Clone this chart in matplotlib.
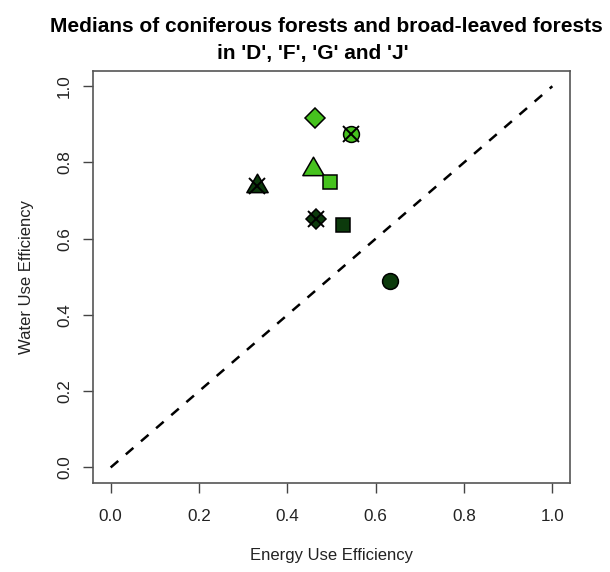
import matplotlib
matplotlib.use('Agg')
import matplotlib.pyplot as plt
from matplotlib.path import Path

# medians per forest type and region (energy use efficiency, water use efficiency)
groups=['coniferous D','coniferous F','coniferous G','coniferous J','broad-leaved D','broad-leaved F','broad-leaved G','broad-leaved J']
eue=[0.462,0.544,0.459,0.497,0.331,0.465,0.527,0.633]
wue=[0.917,0.874,0.783,0.749,0.738,0.651,0.636,0.490]
shapes=['D','o','tri','s','tri','D','s','o']
fills=['#46c21e','#46c21e','#46c21e','#46c21e','#0c3a0c','#0c3a0c','#0c3a0c','#0c3a0c']
crossed=[False,True,False,False,True,True,False,False]

# R style equilateral triangle (pch 24), centred on its centroid
tri=Path([(0,1),(-0.866,-0.5),(0.866,-0.5),(0,1)],[Path.MOVETO,Path.LINETO,Path.LINETO,Path.CLOSEPOLY])
sizes={'D':10.1,'o':11.4,'s':10.1,'tri':17.7}

def scatterChart(imgfilename):
	plt.rcParams['font.family']=['Liberation Sans','DejaVu Sans']
	fig=plt.figure(figsize=(6.1,5.72),dpi=100)
	ax=fig.add_axes([93/610,1-482.7/572,477/610,411.7/572])

	ax.plot([0,1],[0,1],color='black',lw=1.8,dashes=(4,4),zorder=1)

	for x,y,sh,fc,cr in zip(eue,wue,shapes,fills,crossed):
		m=tri if sh=='tri' else sh
		ax.plot(x,y,marker=m,ms=sizes[sh],mfc=fc,mec='black',mew=1.1,ls='none',zorder=3)
		if cr:
			ax.plot(x,y,marker='x',ms=11.4,mec='black',mew=1.4,ls='none',zorder=4)

	ax.set_xlim(-0.04,1.04)
	ax.set_ylim(-0.04,1.04)
	ticks=[0.0,0.2,0.4,0.6,0.8,1.0]
	ax.set_xticks(ticks)
	ax.set_yticks(ticks)
	ax.set_xticklabels(['%.1f'%t for t in ticks])
	ax.set_yticklabels(['%.1f'%t for t in ticks],rotation=90,va='center')
	ax.tick_params(length=7,width=1,color='#444',labelsize=12.3,labelcolor='#222')
	ax.tick_params(axis='x',pad=12)
	ax.tick_params(axis='y',pad=8)
	for s in ax.spines.values():
		s.set_color('#555')
		s.set_linewidth(1.2)

	ax.set_xlabel('Energy Use Efficiency',fontsize=12,color='#222',labelpad=17)
	ax.set_ylabel('Water Use Efficiency',fontsize=12,color='#222',labelpad=17)

	fig.text(326/610,1-26/572,'Medians of coniferous forests and broad-leaved forests',ha='center',va='center',fontsize=15,fontweight='bold')
	fig.text(313/610,1-54/572,"in 'D', 'F', 'G' and 'J'",ha='center',va='center',fontsize=15,fontweight='bold')

	plt.savefig(imgfilename)
	plt.close()

def main():
	scatterChart('out.png')

if __name__=='__main__':
	main()
